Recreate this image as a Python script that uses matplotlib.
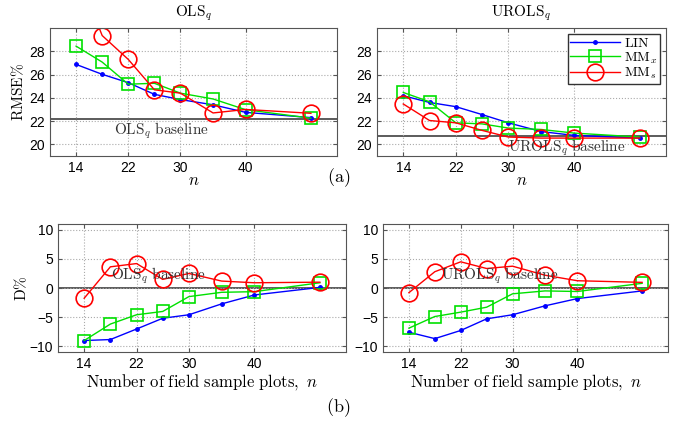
import matplotlib
matplotlib.use("Agg")
import matplotlib.pyplot as plt

plt.rcParams['mathtext.fontset'] = 'cm'
plt.rcParams['font.family'] = ['Liberation Sans', 'DejaVu Sans']

# sample sizes
n = [14, 18, 22, 26, 30, 35, 40, 50]
xticks = [14, 22, 30, 40]

# (a) RMSE% , OLS_q
ols_lin = [26.87, 26.02, 25.3, 24.3, 23.85, 23.4, 22.75, 22.3]
ols_mmx = [28.44, 27.07, 25.17, 25.25, 24.4, 23.9, 22.98, 22.25]
ols_mms = [35.0, 29.35, 27.3, 24.69, 24.4, 22.7, 23.0, 22.67]
ols_base = 22.2

# (a) RMSE% , UROLS_q
urols_lin = [24.18, 23.6, 23.24, 22.56, 21.85, 21.1, 20.77, 20.54]
urols_mmx = [24.46, 23.66, 21.85, 21.76, 21.4, 21.28, 20.97, 20.63]
urols_mms = [23.47, 22.05, 21.85, 21.2, 20.63, 20.54, 20.54, 20.54]
urols_base = 20.7

# (b) D%
d_ols_lin = [-9.03, -8.86, -7.05, -5.2, -4.6, -2.73, -1.2, 0.1]
d_ols_mmx = [-9.03, -6.2, -4.6, -4.03, -1.48, -0.74, -0.63, 0.9]
d_ols_mms = [-1.76, 3.64, 4.2, 1.48, 2.5, 1.19, 0.9, 1.0]
d_urols_lin = [-7.6, -8.7, -7.3, -5.3, -4.6, -3.07, -1.82, -0.5]
d_urols_mmx = [-6.9, -4.9, -4.15, -3.3, -1.0, -0.5, -0.6, 0.8]
d_urols_mms = [-0.8, 2.8, 4.5, 3.35, 3.75, 2.2, 1.25, 0.97]
d_base = 0.0

W, H = 677, 424
fig = plt.figure(figsize=(W / 100, H / 100), dpi=100)


def box(l, t, r, b):
    return [l / W, 1 - b / H, (r - l) / W, (b - t) / H]


def draw(ax, lin, mmx, mms, base, ylim, yticks):
    ax.plot(n, lin, color='#0000ff', lw=1.0, marker='.', ms=5, label=r'$\mathrm{LIN}$')
    ax.plot(n, mmx, color='#00e000', lw=1.0, marker='s', ms=8, mfc='none',
            mew=1.2, label=r'$\mathrm{MM}_x$')
    ax.plot(n, mms, color='#ff0000', lw=1.0, marker='o', ms=12, mfc='none',
            mew=1.2, label=r'$\mathrm{MM}_s$')
    ax.axhline(base, color='#404040', lw=1.2, zorder=1)
    ax.set_xlim(10, 54)
    ax.set_ylim(*ylim)
    ax.set_xticks(xticks)
    ax.set_yticks(yticks)
    ax.grid(True, color='#aaaaaa', ls=':', lw=0.8)
    ax.tick_params(labelsize=10, direction='in', length=3, color='#555555',
                   top=True, right=True)
    for s in ax.spines.values():
        s.set_color('#555555')


ax1 = fig.add_axes(box(50, 28, 337, 156))
draw(ax1, ols_lin, ols_mmx, ols_mms, ols_base, (19, 30), [20, 22, 24, 26, 28])
ax1.set_title(r'$\mathrm{OLS}_q$', fontsize=11, pad=8)
ax1.set_ylabel(r'$\mathrm{RMSE\%}$', fontsize=11, labelpad=2)
ax1.set_xlabel(r'$n$', fontsize=12, labelpad=-1)
ax1.text(19.8, ols_base - 0.15, r'$\mathrm{OLS}_q\ \mathrm{baseline}$',
         fontsize=11, va='top', ha='left', color='#333333')

ax2 = fig.add_axes(box(377, 28, 666, 156))
draw(ax2, urols_lin, urols_mmx, urols_mms, urols_base, (19, 30), [20, 22, 24, 26, 28])
ax2.set_title(r'$\mathrm{UROLS}_q$', fontsize=11, pad=8)
ax2.set_xlabel(r'$n$', fontsize=12, labelpad=-1)
ax2.text(30.0, urols_base - 0.15, r'$\mathrm{UROLS}_q\ \mathrm{baseline}$',
         fontsize=11, va='top', ha='left', color='#333333')
leg = ax2.legend(loc='upper right', fontsize=10, frameon=True, fancybox=False,
                 borderpad=0.2, labelspacing=0.0, handlelength=3.6,
                 handletextpad=0.3, borderaxespad=0.4, framealpha=1)
leg.get_frame().set_edgecolor('#333333')
leg.get_frame().set_linewidth(1.0)

ax3 = fig.add_axes(box(58, 224, 346, 352))
draw(ax3, d_ols_lin, d_ols_mmx, d_ols_mms, d_base, (-11, 11), [-10, -5, 0, 5, 10])
ax3.set_ylabel(r'$\mathrm{D\%}$', fontsize=11, labelpad=0)
ax3.set_xlabel(r'$\mathrm{Number\ of\ field\ sample\ plots,}\ n$', fontsize=12, labelpad=1)
ax3.text(18.1, 0.4, r'$\mathrm{OLS}_q\ \mathrm{baseline}$',
         fontsize=11, va='bottom', ha='left', color='#333333')

ax4 = fig.add_axes(box(383, 224, 668, 352))
draw(ax4, d_urols_lin, d_urols_mmx, d_urols_mms, d_base, (-11, 11), [-10, -5, 0, 5, 10])
ax4.set_xlabel(r'$\mathrm{Number\ of\ field\ sample\ plots,}\ n$', fontsize=12, labelpad=1)
ax4.text(18.9, 0.3, r'$\mathrm{UROLS}_q\ \mathrm{baseline}$',
         fontsize=11, va='bottom', ha='left', color='#333333')

fig.text(0.5, 1 - 178 / H, r'$\mathrm{(a)}$', fontsize=13, ha='center', va='center')
fig.text(0.5, 1 - 408 / H, r'$\mathrm{(b)}$', fontsize=13, ha='center', va='center')

fig.savefig('out.png', dpi=100)
